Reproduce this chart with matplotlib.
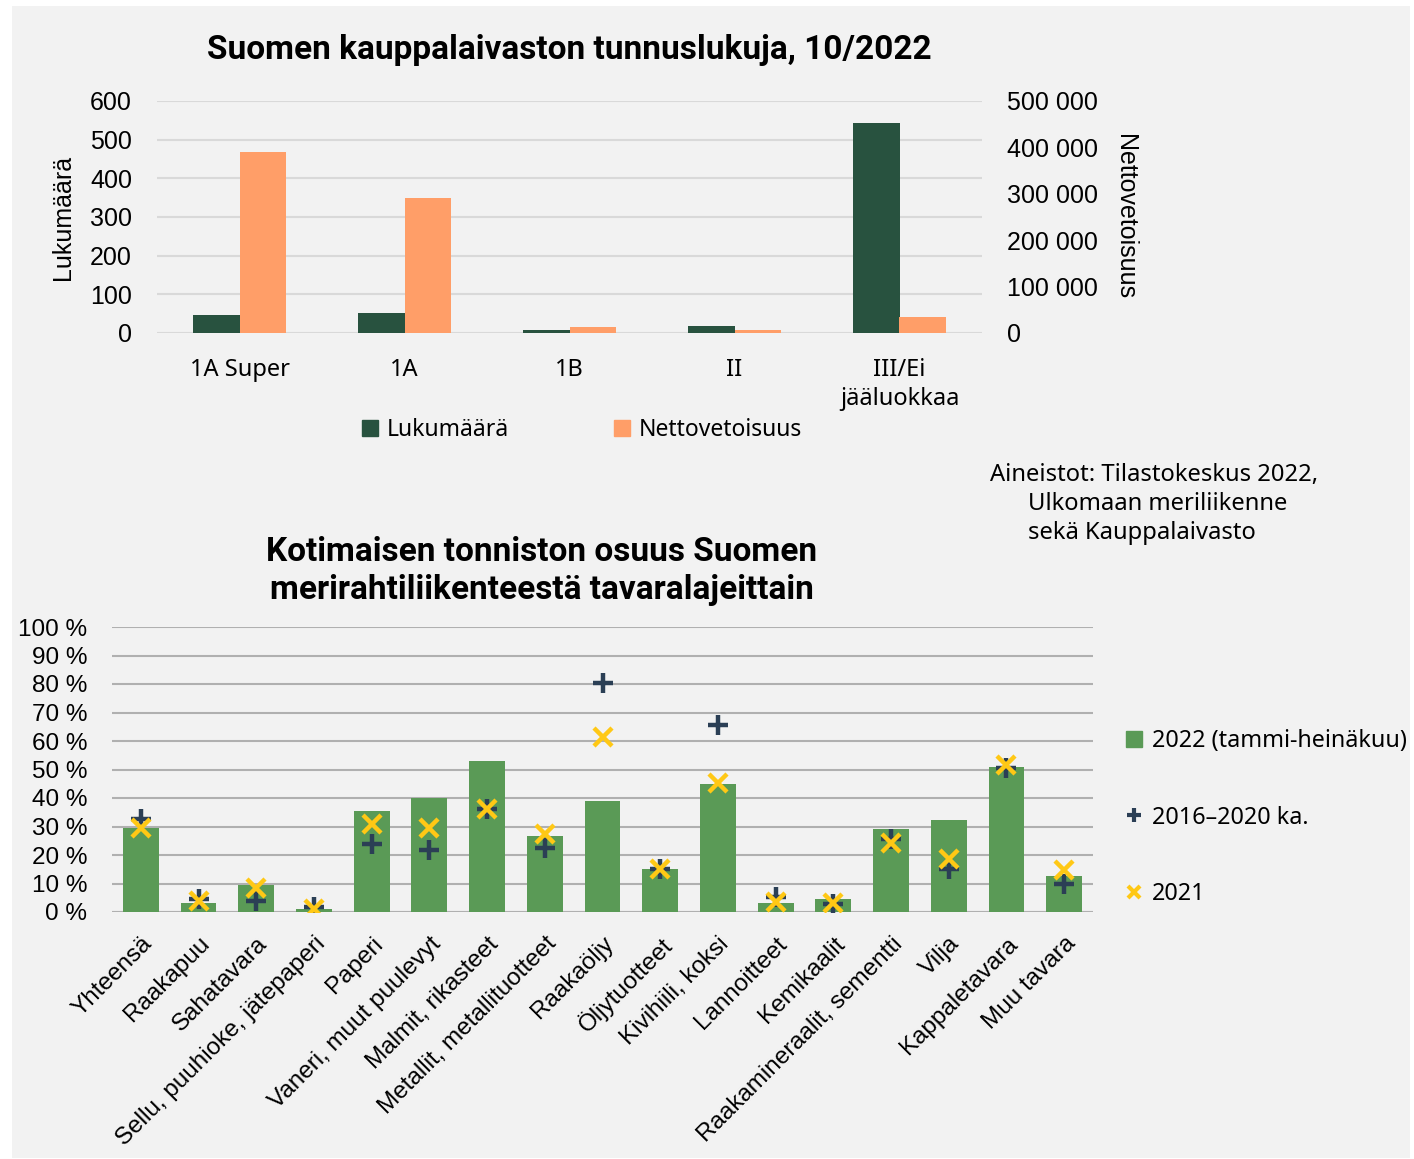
import numpy as np
import matplotlib
matplotlib.use("Agg")
import matplotlib.pyplot as plt
from matplotlib.patches import Rectangle, Patch
from matplotlib.lines import Line2D
from matplotlib.ticker import FuncFormatter

# top chart data
ship_classes = ["1A Super", "1A", "1B", "II", "III/Ei\njääluokkaa"]
lukumaara = [47, 52, 9, 19, 543]
nettovetoisuus = [390000, 290000, 12000, 6500, 34000]

# bottom chart data
goods = ["Yhteensä", "Raakapuu", "Sahatavara", "Sellu, puuhioke, jätepaperi",
         "Paperi", "Vaneri, muut puulevyt", "Malmit, rikasteet",
         "Metallit, metallituotteet", "Raakaöljy", "Öljytuotteet",
         "Kivihiili, koksi", "Lannoitteet", "Kemikaalit",
         "Raakamineraalit, sementti", "Vilja", "Kappaletavara", "Muu tavara"]
share_2022 = [29.6, 3.3, 9.6, 1.1, 35.4, 40.1, 52.9, 26.5, 39.0, 15.0,
              44.8, 3.3, 4.7, 29.0, 32.4, 50.9, 12.6]
share_avg = [32.8, 4.5, 3.9, 1.8, 24.0, 21.6, 36.0, 22.6, 80.5, 15.0,
             65.5, 5.4, 2.7, 25.5, 15.0, 50.7, 9.7]
share_2021 = [29.3, 3.9, 8.3, 1.0, 30.8, 29.3, 36.0, 27.5, 61.5, 15.0,
              45.4, 3.5, 3.0, 24.3, 18.5, 51.6, 14.6]

dark_green = "#28523f"
orange = "#ff9e68"
green = "#5a9a56"
navy = "#2b3f55"
yellow = "#ffc815"
tick_font = "Liberation Sans"
text_font = "Noto Sans"

W, H = 1414, 1159
fig = plt.figure(figsize=(W / 100, H / 100), dpi=100)
fig.patch.set_facecolor("white")
fig.patches.append(Rectangle((12 / W, 1 - 1158 / H), 1398 / W, 1152 / H,
                             transform=fig.transFigure, facecolor="#f2f2f2",
                             edgecolor="none", zorder=-10))

# ---------- top chart ----------
ax1 = fig.add_axes([157 / W, 1 - 333 / H, 825 / W, 232 / H])
ax1.set_facecolor("none")
ax2 = ax1.twinx()
x = np.arange(len(ship_classes))
bw = 0.28
ax1.bar(x - bw / 2, lukumaara, bw, color=dark_green, zorder=3)
ax2.bar(x + bw / 2, nettovetoisuus, bw, color=orange, zorder=3)
ax1.set_ylim(0, 600)
ax2.set_ylim(0, 500000)
ax1.set_xlim(-0.5, len(ship_classes) - 0.5)
ax1.set_yticks(range(0, 601, 100))
ax2.set_yticks(range(0, 500001, 100000))
ax2.yaxis.set_major_formatter(FuncFormatter(lambda v, p: f"{int(v):,}".replace(",", " ")))
ax1.grid(axis="y", color="#d9d9d9", linewidth=1.5, zorder=0)
for a in (ax1, ax2):
    for s in a.spines.values():
        s.set_visible(False)
    a.tick_params(length=0, labelsize=18)
    for lab in a.get_yticklabels():
        lab.set_fontfamily(tick_font)
ax1.tick_params(axis="y", pad=18)
ax2.tick_params(axis="y", pad=18)
ax1.set_xticks(x)
ax1.set_xticklabels(ship_classes, fontsize=17, fontfamily=text_font, linespacing=1.3)
ax1.tick_params(axis="x", pad=18)
ax1.set_ylabel("Lukumäärä", fontsize=18, fontfamily=tick_font, labelpad=11)
ax2.set_ylabel("Nettovetoisuus", fontsize=18, fontfamily=tick_font, rotation=-90,
               labelpad=28)
ax1.set_title("Suomen kauppalaivaston tunnuslukuja, 10/2022", fontsize=24,
              fontweight="bold", fontfamily="Roboto", pad=30)
top_handles = [Patch(color=dark_green), Patch(color=orange)]
fig.legend(top_handles, ["Lukumäärä", "Nettovetoisuus"], loc="center",
           bbox_to_anchor=(582 / W, 1 - 430 / H), ncol=2, frameon=False,
           prop={"family": text_font, "size": 16.5}, handlelength=0.7,
           handleheight=0.7, handletextpad=0.4, columnspacing=4.55)

fig.text(990 / W, 1 - 475 / H, "Aineistot: Tilastokeskus 2022,", fontsize=17.1,
         fontfamily=text_font, va="center")
fig.text(1028 / W, 1 - 504 / H, "Ulkomaan meriliikenne", fontsize=17.1,
         fontfamily=text_font, va="center")
fig.text(1028 / W, 1 - 533 / H, "sekä Kauppalaivasto", fontsize=17.1,
         fontfamily=text_font, va="center")

# ---------- bottom chart ----------
ax3 = fig.add_axes([112 / W, 1 - 912 / H, 981 / W, 285 / H])
ax3.set_facecolor("none")
xb = np.arange(len(goods))
ax3.bar(xb, share_2022, 0.62, color=green, zorder=3, label="2022 (tammi-heinäkuu)")
ax3.plot(xb, share_avg, linestyle="none", marker="+", markersize=15,
         markeredgewidth=3.2, color=navy, zorder=4, label="2016–2020 ka.")
ax3.plot(xb, share_2021, linestyle="none", marker="x", markersize=13,
         markeredgewidth=3.2, color=yellow, zorder=5, label="2021")
ax3.set_ylim(0, 100)
ax3.set_xlim(-0.5, len(goods) - 0.5)
ax3.set_yticks(range(0, 101, 10))
ax3.set_yticklabels([f"{v} %" for v in range(0, 101, 10)], fontsize=17.5,
                    fontfamily=tick_font)
ax3.grid(axis="y", color="#b0b0b0", linewidth=1.5, zorder=0)
for s in ax3.spines.values():
    s.set_visible(False)
ax3.axhline(0, color="#d9d9d9", linewidth=1.5, zorder=1)
ax3.tick_params(length=0)
ax3.tick_params(axis="y", pad=18)
ax3.set_xticks(xb)
ax3.set_xticklabels(goods, rotation=45, ha="right", rotation_mode="anchor",
                    fontsize=17.5, fontfamily=tick_font)
ax3.tick_params(axis="x", pad=15)
ax3.set_title("Kotimaisen tonniston osuus Suomen\nmerirahtiliikenteestä tavaralajeittain",
              fontsize=24, fontweight="bold", fontfamily="Roboto", pad=20,
              linespacing=1.25, x=0.438)
bottom_handles = [Patch(color=green),
                  Line2D([], [], linestyle="none", marker="+", markersize=10,
                         markeredgewidth=3, color=navy),
                  Line2D([], [], linestyle="none", marker="x", markersize=9,
                         markeredgewidth=3, color=yellow)]
fig.legend(bottom_handles, ["2022 (tammi-heinäkuu)", "2016–2020 ka.", "2021"],
           loc="upper left", bbox_to_anchor=(1126 / W, 1 - 729 / H), frameon=False,
           prop={"family": text_font, "size": 16.8}, handlelength=0.7,
           handleheight=0.7, handletextpad=0.4, labelspacing=2.25,
           borderaxespad=0, borderpad=0)

fig.savefig("out.png", dpi=100)
